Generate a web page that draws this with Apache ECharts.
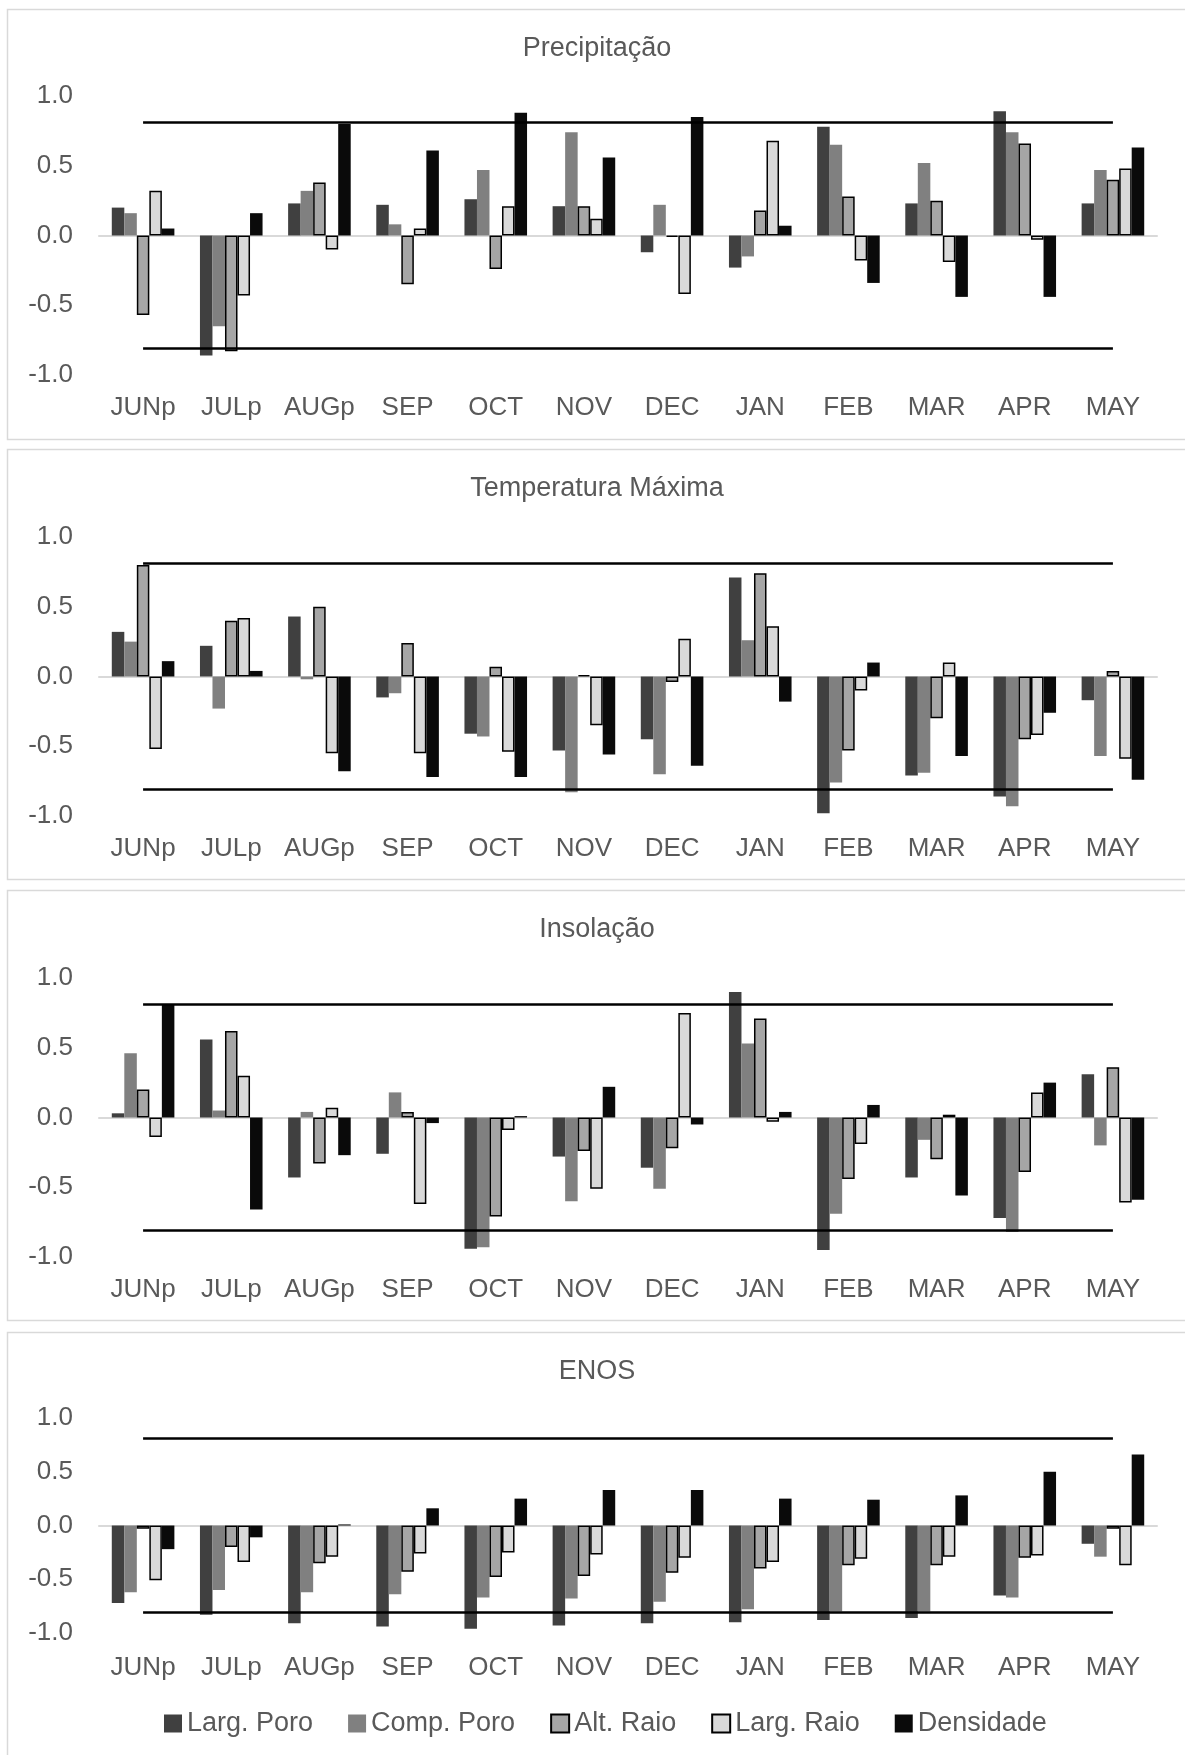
<!DOCTYPE html>
<html>
<head>
<meta charset="utf-8">
<title>Correlações mensais</title>
<script src="https://cdn.jsdelivr.net/npm/echarts@6.0.0/dist/echarts.min.js"></script>
<style>
  html, body { margin: 0; padding: 0; background: #ffffff; }
  #chart { width: 1185px; height: 1755px; }
</style>
</head>
<body>
<div id="chart"></div>
<script>
// Months of the growth year (p = previous year)
const months = ['JUNp', 'JULp', 'AUGp', 'SEP', 'OCT', 'NOV', 'DEC', 'JAN', 'FEB', 'MAR', 'APR', 'MAY'];
const seriesNames = ['Larg. Poro', 'Comp. Poro', 'Alt. Raio', 'Larg. Raio', 'Densidade'];
const panelTitles = ['Precipitação', 'Temperatura Máxima', 'Insolação', 'ENOS'];
const yTickLabels = ['-1.0', '-0.5', '0.0', '0.5', '1.0'];
const criticalR = 0.811; // significance limit (p < 0.05)

// Precipitação
const precLargPoro  = [0.20, -0.86, 0.23, 0.22, 0.26, 0.21, -0.12, -0.23, 0.78, 0.23, 0.89, 0.23];
const precCompPoro  = [0.16, -0.65, 0.32, 0.08, 0.47, 0.74, 0.22, -0.15, 0.65, 0.52, 0.74, 0.47];
const precAltRaio   = [-0.57, -0.83, 0.38, -0.35, -0.24, 0.21, -0.01, 0.18, 0.28, 0.25, 0.66, 0.40];
const precLargRaio  = [0.32, -0.43, -0.10, 0.05, 0.21, 0.12, -0.42, 0.68, -0.18, -0.19, -0.03, 0.48];
const precDensidade = [0.05, 0.16, 0.80, 0.61, 0.88, 0.56, 0.85, 0.07, -0.34, -0.44, -0.44, 0.63];

// Temperatura Máxima
const tmaxLargPoro  = [0.32, 0.22, 0.43, -0.15, -0.41, -0.53, -0.45, 0.71, -0.98, -0.71, -0.86, -0.17];
const tmaxCompPoro  = [0.25, -0.23, -0.02, -0.12, -0.43, -0.83, -0.70, 0.26, -0.76, -0.69, -0.93, -0.57];
const tmaxAltRaio   = [0.80, 0.40, 0.50, 0.24, 0.07, 0.01, -0.04, 0.74, -0.53, -0.30, -0.45, 0.04];
const tmaxLargRaio  = [-0.52, 0.42, -0.55, -0.55, -0.54, -0.35, 0.27, 0.36, -0.10, 0.10, -0.42, -0.59];
const tmaxDensidade = [0.11, 0.04, -0.68, -0.72, -0.72, -0.56, -0.64, -0.18, 0.10, -0.57, -0.26, -0.74];

// Insolação
const insoLargPoro  = [0.03, 0.56, -0.43, -0.26, -0.94, -0.28, -0.36, 0.90, -0.95, -0.43, -0.72, 0.31];
const insoCompPoro  = [0.46, 0.05, 0.04, 0.18, -0.93, -0.60, -0.51, 0.53, -0.69, -0.16, -0.82, -0.20];
const insoAltRaio   = [0.20, 0.62, -0.33, 0.04, -0.71, -0.24, -0.22, 0.71, -0.44, -0.30, -0.39, 0.36];
const insoLargRaio  = [-0.14, 0.30, 0.07, -0.62, -0.09, -0.51, 0.75, -0.03, -0.19, 0.02, 0.18, -0.61];
const insoDensidade = [0.81, -0.66, -0.27, -0.04, 0.01, 0.22, -0.05, 0.04, 0.09, -0.56, 0.25, -0.59];

// ENOS
const enosLargPoro  = [-0.72, -0.83, -0.91, -0.94, -0.96, -0.93, -0.91, -0.90, -0.88, -0.86, -0.65, -0.17];
const enosCompPoro  = [-0.62, -0.60, -0.62, -0.64, -0.67, -0.68, -0.71, -0.78, -0.80, -0.80, -0.67, -0.29];
const enosAltRaio   = [-0.03, -0.20, -0.35, -0.43, -0.48, -0.47, -0.44, -0.40, -0.37, -0.37, -0.30, -0.03];
const enosLargRaio  = [-0.51, -0.34, -0.29, -0.26, -0.25, -0.27, -0.30, -0.34, -0.31, -0.29, -0.28, -0.37];
const enosDensidade = [-0.22, -0.11, 0.01, 0.16, 0.25, 0.33, 0.33, 0.25, 0.24, 0.28, 0.50, 0.66];

const panelData = [
  [precLargPoro, precCompPoro, precAltRaio, precLargRaio, precDensidade],
  [tmaxLargPoro, tmaxCompPoro, tmaxAltRaio, tmaxLargRaio, tmaxDensidade],
  [insoLargPoro, insoCompPoro, insoAltRaio, insoLargRaio, insoDensidade],
  [enosLargPoro, enosCompPoro, enosAltRaio, enosLargRaio, enosDensidade]
];

// ---- layout & styling ----
const FONT = '"Liberation Sans", Arial, Helvetica, sans-serif';
const TEXT = '#595959';
const panelTop = [9, 449, 890, 1332];
const panelHeight = [430, 430, 430, 440];
const gridTop = [96, 537, 978, 1418];
const gridHeight = [279, 279, 279, 215];
const labelMargin = [20, 20, 20, 22];
const gridLeft = 99;
const gridWidth = 1058;

const barStyles = [
  { color: '#404040' },
  { color: '#808080' },
  { color: '#a6a6a6', borderColor: '#000000', borderWidth: 1.5 },
  { color: '#d9d9d9', borderColor: '#000000', borderWidth: 1.5 },
  { color: '#0a0a0a' }
];

const grid = [], xAxis = [], yAxis = [], series = [], title = [], graphic = [];

panelTitles.forEach(function (name, p) {
  graphic.push({
    type: 'rect', silent: true, z: -10,
    shape: { x: 7.5, y: panelTop[p] + 0.5, width: 1195, height: panelHeight[p] },
    style: { fill: '#ffffff', stroke: '#d9d9d9', lineWidth: 1.5 }
  });

  title.push({
    text: name, left: 597, textAlign: 'center', top: panelTop[p] + 26, padding: 0,
    textStyle: { fontFamily: FONT, fontSize: 27, fontWeight: 'normal', color: TEXT }
  });

  grid.push({ left: gridLeft, width: gridWidth, top: gridTop[p], height: gridHeight[p] });

  // category axis carrying the month labels at the bottom
  xAxis.push({
    type: 'category', gridIndex: p, data: months, position: 'bottom',
    axisLine: { show: false, onZero: false }, axisTick: { show: false },
    axisLabel: { interval: 0, margin: labelMargin[p], fontFamily: FONT, fontSize: 26, color: TEXT },
    splitLine: { show: false }
  });
  // second category axis drawn as the zero line
  xAxis.push({
    type: 'category', gridIndex: p, data: months, position: 'bottom',
    axisLine: { show: true, onZero: true, lineStyle: { color: '#d9d9d9', width: 2 } },
    axisTick: { show: false }, axisLabel: { show: false }, splitLine: { show: false }
  });

  yAxis.push({
    type: 'value', gridIndex: p, min: -1, max: 1, interval: 0.5,
    axisLine: { show: false }, axisTick: { show: false }, splitLine: { show: false },
    axisLabel: {
      margin: 26, fontFamily: FONT, fontSize: 26, color: TEXT,
      formatter: function (v) { return yTickLabels[Math.round((v + 1) / 0.5)]; }
    }
  });

  seriesNames.forEach(function (sName, s) {
    series.push({
      name: sName, type: 'bar', xAxisIndex: p * 2, yAxisIndex: p,
      data: panelData[p][s], barGap: '0%', barCategoryGap: '29%',
      itemStyle: barStyles[s], emphasis: { disabled: true }, z: 2
    });
  });

  // significance limits, from the first to the last month centre
  const first = months[0], last = months[months.length - 1];
  series.push({
    name: 'limite', type: 'line', xAxisIndex: p * 2, yAxisIndex: p,
    data: [], z: 5, silent: true,
    markLine: {
      silent: true, symbol: ['none', 'none'], animation: false,
      label: { show: false },
      lineStyle: { color: '#000000', width: 2.5, type: 'solid' },
      emphasis: { disabled: true },
      data: [
        [{ xAxis: first, yAxis: criticalR }, { xAxis: last, yAxis: criticalR }],
        [{ xAxis: first, yAxis: -criticalR }, { xAxis: last, yAxis: -criticalR }]
      ]
    }
  });
});

const option = {
  animation: false,
  backgroundColor: '#ffffff',
  textStyle: { fontFamily: FONT },
  graphic: graphic,
  title: title,
  grid: grid,
  xAxis: xAxis,
  yAxis: yAxis,
  legend: {
    data: seriesNames, left: 164, top: 1710, padding: 0,
    itemWidth: 18, itemHeight: 18, itemGap: 35, icon: 'rect',
    textStyle: { fontFamily: FONT, fontSize: 27, color: TEXT },
    selectedMode: false
  },
  series: series
};

const chart = echarts.init(document.getElementById('chart'), null, { renderer: 'canvas' });
chart.setOption(option);
</script>
</body>
</html>
